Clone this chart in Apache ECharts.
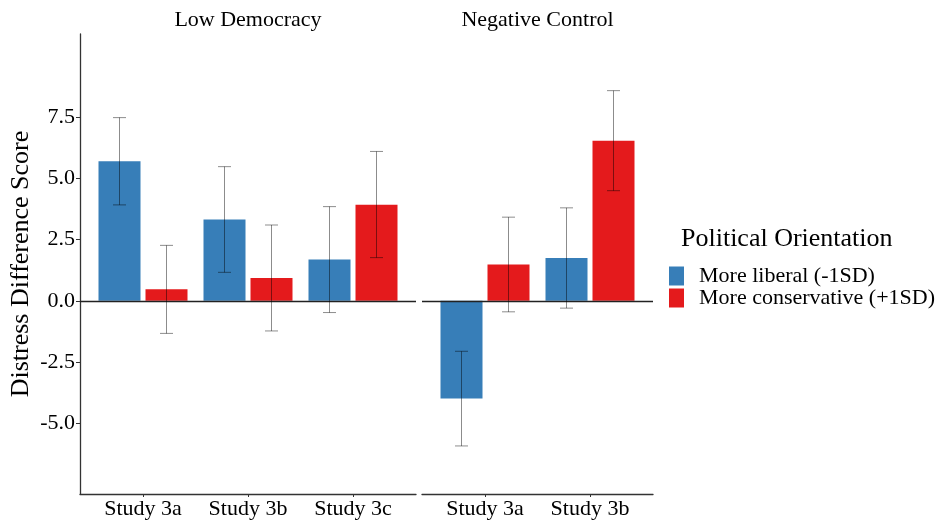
<!DOCTYPE html>
<html>
<head>
<meta charset="utf-8">
<script src="https://cdn.jsdelivr.net/npm/echarts@6/dist/echarts.min.js"></script>
<style>html,body{margin:0;padding:0;background:#fff;}#c{width:949px;height:520px;}</style>
</head>
<body>
<div id="c"></div>
<script>
// ---- data ----
const categoriesLow = ['Study 3a', 'Study 3b', 'Study 3c'];
const categoriesNeg = ['Study 3a', 'Study 3b'];
const panelTitles = ['Low Democracy', 'Negative Control'];
const seriesNames = ['More liberal (-1SD)', 'More conservative (+1SD)'];
const legendTitle = 'Political Orientation';
const yTicks = [-5, -2.5, 0, 2.5, 5, 7.5];

const lowLiberal = [5.69, 3.31, 1.68];
const lowLiberalLo = [3.91, 1.16, -0.48];
const lowLiberalHi = [7.47, 5.47, 3.84];
const lowConservative = [0.47, 0.93, 3.92];
const lowConservativeLo = [-1.33, -1.23, 1.76];
const lowConservativeHi = [2.26, 3.09, 6.09];

const negLiberal = [-3.99, 1.74];
const negLiberalLo = [-5.92, -0.30];
const negLiberalHi = [-2.06, 3.79];
const negConservative = [1.48, 6.53];
const negConservativeLo = [-0.45, 4.49];
const negConservativeHi = [3.41, 8.57];

// ---- styles ----
const FONT = 'Liberation Serif';
const BLUE = '#377EB8';
const RED = '#E41A1C';
const BAR_W = 42;
const BAR_GAP_PX = 5;
const AXIS_COLOR = '#333';

const chart = echarts.init(document.getElementById('c'), null, {renderer: 'canvas'});

function barData(vals) { return vals.map((v, i) => [i + 1, v]); }
function errData(lo, hi) { return lo.map((l, i) => [i + 1, l, hi[i]]); }

function errSeries(lo, hi, gridIdx, sign) {
  const off = sign * (BAR_W + BAR_GAP_PX) / 2;
  return {
    type: 'custom',
    xAxisIndex: gridIdx, yAxisIndex: gridIdx,
    silent: true, z: 5,
    data: errData(lo, hi),
    renderItem: function (params, api) {
      const x = api.value(0);
      const pHi = api.coord([x, api.value(2)]);
      const pLo = api.coord([x, api.value(1)]);
      const cx = pHi[0] + off;
      const hw = 6.5;
      const st = {stroke: 'rgba(0,0,0,0.45)', lineWidth: 1};
      return {
        type: 'group',
        children: [
          {type: 'line', shape: {x1: cx, y1: pHi[1], x2: cx, y2: pLo[1]}, style: st},
          {type: 'line', shape: {x1: cx - hw, y1: pHi[1], x2: cx + hw, y2: pHi[1]}, style: st},
          {type: 'line', shape: {x1: cx - hw, y1: pLo[1], x2: cx + hw, y2: pLo[1]}, style: st}
        ]
      };
    }
  };
}

const zeroLine = {
  silent: true, symbol: 'none',
  label: {show: false},
  lineStyle: {color: '#222', width: 1.3, type: 'solid'},
  data: [{yAxis: 0}]
};

function xAxisCfg(gridIdx, cats) {
  const vals = cats.map((c, i) => i + 1);
  return {
    type: 'value', gridIndex: gridIdx,
    min: 0.4, max: cats.length + 0.6,
    splitLine: {show: false},
    axisLine: {show: true, onZero: false, lineStyle: {color: AXIS_COLOR, width: 1.3}},
    axisTick: {show: true, length: 3, customValues: vals, lineStyle: {color: AXIS_COLOR}},
    axisLabel: {
      show: true, customValues: vals, margin: 4,
      formatter: v => cats[Math.round(v) - 1] || '',
      fontFamily: FONT, fontSize: 22, color: '#000'
    }
  };
}

function yAxisCfg(gridIdx, showAxis) {
  return {
    type: 'value', gridIndex: gridIdx,
    min: -7.88, max: 10.88,
    splitLine: {show: false},
    axisLine: {show: showAxis, lineStyle: {color: AXIS_COLOR, width: 1.3}},
    axisTick: {show: showAxis, length: 4, customValues: yTicks, lineStyle: {color: AXIS_COLOR}},
    axisLabel: {
      show: showAxis, customValues: yTicks, margin: 5,
      formatter: v => v.toFixed(1),
      fontFamily: FONT, fontSize: 22, color: '#000'
    },
    name: showAxis ? 'Distress Difference Score' : '',
    nameLocation: 'middle', nameGap: 46,
    nameTextStyle: {fontFamily: FONT, fontSize: 26, color: '#000'}
  };
}

const option = {
  backgroundColor: '#fff',
  animation: false,
  grid: [
    {left: 80, top: 34, width: 336, height: 462},
    {left: 422, top: 34, width: 231, height: 462}
  ],
  xAxis: [xAxisCfg(0, categoriesLow), xAxisCfg(1, categoriesNeg)],
  yAxis: [yAxisCfg(0, true), yAxisCfg(1, false)],
  legend: {
    orient: 'vertical', left: 669, top: 265, padding: 0,
    itemWidth: 15, itemHeight: 19, itemGap: 0,
    icon: 'rect',
    data: seriesNames,
    textStyle: {fontFamily: FONT, fontSize: 22, color: '#000', lineHeight: 19, padding: [0, 0, 0, 10]}
  },
  graphic: [
    {type: 'text', x: 248, y: 20, style: {text: panelTitles[0], font: '22px "' + FONT + '"', fill: '#000', textAlign: 'center', textVerticalAlign: 'middle'}},
    {type: 'text', x: 537.5, y: 20, style: {text: panelTitles[1], font: '22px "' + FONT + '"', fill: '#000', textAlign: 'center', textVerticalAlign: 'middle'}},
    {type: 'text', x: 681, y: 239, style: {text: legendTitle, font: '26px "' + FONT + '"', fill: '#000', textAlign: 'left', textVerticalAlign: 'middle'}}
  ],
  series: [
    {name: seriesNames[0], type: 'bar', xAxisIndex: 0, yAxisIndex: 0, barWidth: BAR_W, barGap: (BAR_GAP_PX / BAR_W * 100) + '%',
     itemStyle: {color: BLUE}, data: barData(lowLiberal), markLine: zeroLine, z: 2},
    {name: seriesNames[1], type: 'bar', xAxisIndex: 0, yAxisIndex: 0, barWidth: BAR_W, barGap: (BAR_GAP_PX / BAR_W * 100) + '%',
     itemStyle: {color: RED}, data: barData(lowConservative), z: 2},
    {name: seriesNames[0], type: 'bar', xAxisIndex: 1, yAxisIndex: 1, barWidth: BAR_W, barGap: (BAR_GAP_PX / BAR_W * 100) + '%',
     itemStyle: {color: BLUE}, data: barData(negLiberal), markLine: zeroLine, z: 2},
    {name: seriesNames[1], type: 'bar', xAxisIndex: 1, yAxisIndex: 1, barWidth: BAR_W, barGap: (BAR_GAP_PX / BAR_W * 100) + '%',
     itemStyle: {color: RED}, data: barData(negConservative), z: 2},
    errSeries(lowLiberalLo, lowLiberalHi, 0, -1),
    errSeries(lowConservativeLo, lowConservativeHi, 0, 1),
    errSeries(negLiberalLo, negLiberalHi, 1, -1),
    errSeries(negConservativeLo, negConservativeHi, 1, 1)
  ]
};
chart.setOption(option);
</script>
</body>
</html>
